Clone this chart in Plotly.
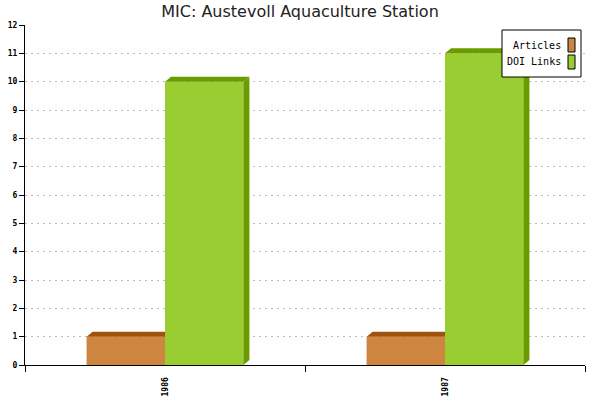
import plotly.graph_objects as go

categories = ["1986", "1987"]
articles = [1, 1]
doi_links = [10, 11]
series_names = ["Articles", "DOI Links"]

front_colors = ["#CD853F", "#9ACD32"]
dark_colors = ["#A0520F", "#6A9C00"]

W, H = 600, 400
L, R, T, B = 25, 15, 25, 35
plot_w = W - L - R
plot_h = H - T - B
x_range = [-0.5, len(categories) - 0.5]
y_range = [0, 12]
px_per_x = plot_w / (x_range[1] - x_range[0])
px_per_y = plot_h / (y_range[1] - y_range[0])
dx = 6 / px_per_x
dy = 5 / px_per_y
bw = 0.28
offsets = [-0.14, 0.14]

fig = go.Figure()
series = [articles, doi_links]
xs = list(range(len(categories)))

for si, vals in enumerate(series):
    fig.add_trace(go.Bar(
        x=[x + offsets[si] for x in xs], y=vals, width=bw,
        marker=dict(color=front_colors[si], line=dict(width=0)),
        name=series_names[si], showlegend=False, hoverinfo="skip"))

for si, vals in enumerate(series):
    for i, v in enumerate(vals):
        x0 = xs[i] + offsets[si] - bw / 2
        x1 = xs[i] + offsets[si] + bw / 2
        last = si == len(series) - 1
        xr = x1 + dx if last else x1
        # top face
        fig.add_trace(go.Scatter(
            x=[x0, x0 + dx, xr, x1, x0], y=[v, v + dy, v + dy, v, v],
            fill="toself", fillcolor=dark_colors[si], mode="none",
            showlegend=False, hoverinfo="skip"))
        if last:
            fig.add_trace(go.Scatter(
                x=[x1, x1 + dx, x1 + dx, x1, x1], y=[0, dy, v + dy, v, 0],
                fill="toself", fillcolor=dark_colors[si], mode="none",
                showlegend=False, hoverinfo="skip"))

# invisible trace to host boundary-tick axis
fig.add_trace(go.Scatter(x=x_range, y=[0, 0], xaxis="x2", mode="none",
                         showlegend=False, hoverinfo="skip"))

tick_font = dict(family="DejaVu Sans Mono", size=8, color="black", weight="bold")

fig.update_layout(
    width=W, height=H,
    margin=dict(l=L, r=R, t=T, b=B, autoexpand=False),
    paper_bgcolor="white", plot_bgcolor="white",
    showlegend=False,
    title=dict(text="MIC: Austevoll Aquaculture Station", x=0.5, xanchor="center",
               y=1 - 11 / H, yanchor="middle", yref="container",
               font=dict(family="DejaVu Sans", size=16, color="#222222")),
    xaxis=dict(range=x_range, tickvals=xs, ticktext=categories, tickangle=-90,
               ticks="", showgrid=False, zeroline=False, showline=True,
               linecolor="black", linewidth=1, automargin=False,
               ticklabelstandoff=8, tickfont=tick_font),
    xaxis2=dict(range=x_range, overlaying="x", side="bottom", automargin=False,
                tickvals=[x_range[0] + k for k in range(len(categories) + 1)],
                showticklabels=False, ticks="outside", ticklen=6, tickcolor="black",
                showgrid=False, zeroline=False, showline=False),
    yaxis=dict(range=y_range, tickvals=list(range(0, 13)), ticks="outside",
               ticklen=5, tickcolor="black", showline=True, linecolor="black",
               linewidth=1, zeroline=False, showgrid=True, gridcolor="#bbbbbb",
               griddash="2px,4px", gridwidth=1, automargin=False,
               tickfont=tick_font),
)

def px_x(p):
    return (p - L) / plot_w

def px_y(p):
    return (H - B - p) / plot_h

# legend box
fig.add_shape(type="rect", xref="paper", yref="paper",
              x0=px_x(502), x1=px_x(581), y0=px_y(77), y1=px_y(30),
              line=dict(color="black", width=1), fillcolor="white", layer="above")
legend_y = [45, 62]
for si, name in enumerate(series_names):
    cy = legend_y[si]
    fig.add_shape(type="rect", xref="paper", yref="paper",
                  x0=px_x(568), x1=px_x(575), y0=px_y(cy + 7), y1=px_y(cy - 7),
                  line=dict(color="black", width=1), fillcolor=front_colors[si],
                  layer="above")
    fig.add_annotation(text=name, xref="paper", yref="paper",
                       x=px_x(563), y=px_y(cy), xanchor="right", yanchor="middle",
                       showarrow=False,
                       font=dict(family="DejaVu Sans Mono", size=10, color="black"))

fig.write_html("out.html",
               config={"displayModeBar": False},
               post_script="document.body.style.margin='0px';"
                           "document.body.style.overflow='hidden';")
